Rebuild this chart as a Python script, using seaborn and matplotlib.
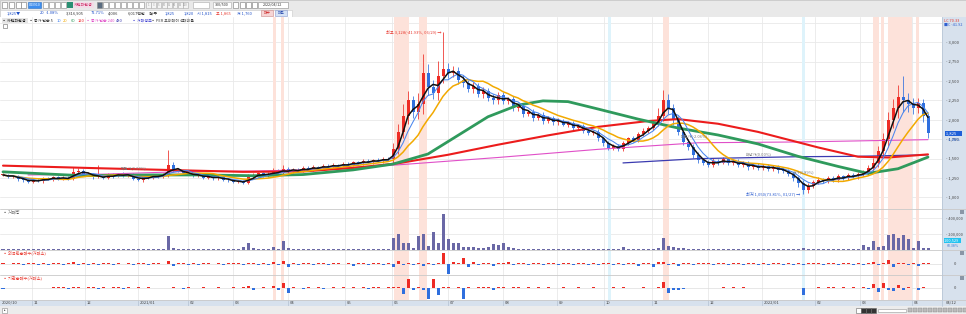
import numpy as np
import pandas as pd
import matplotlib
matplotlib.use("Agg")
import matplotlib.pyplot as plt
from matplotlib.patches import Rectangle
import seaborn as sns

# ---------------- data (one candle = two trading days) ----------------
closes = [
    1290, 1265, 1275, 1235, 1220, 1205,
    1225, 1210, 1245, 1235, 1260, 1240, 1255, 1240, 1330, 1345, 1300,
    1305, 1260, 1270, 1255, 1290, 1275, 1305, 1280, 1290, 1240, 1225,
    1265, 1255, 1285, 1270, 1295, 1420, 1350, 1345, 1310, 1305,
    1280, 1290, 1255, 1270, 1245, 1260, 1230, 1220, 1200,
    1210, 1190, 1260, 1285, 1310, 1280, 1305, 1345, 1310, 1370, 1335,
    1360, 1345, 1380, 1360, 1395, 1375, 1410, 1395, 1420, 1405, 1435,
    1420, 1455, 1440, 1470, 1455, 1485, 1470, 1500, 1490,
    1620, 1850, 2050, 2250, 2100, 2200, 2600, 2420, 2350, 2560, 2650,
    2600, 2630, 2520, 2480, 2400, 2440, 2330, 2370, 2280, 2250, 2320,
    2240, 2270, 2150, 2180, 2080, 2100, 2030, 2060, 1990, 2020, 1970,
    1990, 1940, 1955, 1900, 1920, 1860, 1830, 1850, 1760, 1700,
    1640, 1660, 1630, 1700, 1760, 1740, 1820, 1860, 1900,
    1960, 2050, 2250, 2150, 2000, 1850, 1720, 1650, 1550, 1480, 1450,
    1420, 1470, 1450, 1490, 1445, 1460, 1420, 1440, 1390, 1410, 1380,
    1400, 1370, 1390, 1350, 1340, 1300, 1250, 1180, 1100, 1150, 1200,
    1230, 1210, 1250, 1230, 1270, 1250, 1290, 1270, 1300,
    1330, 1380, 1450, 1600, 1750, 2000, 2150, 2300, 2250, 2200,
    2150, 2220, 2050, 1825,
]
upper_tail = [
    20, 15, 20, 15, 20, 15,
    15, 20, 15, 20, 15, 20, 15, 20, 60, 30, 20,
    20, 15, 150, 20, 25, 20, 15, 20, 15, 20, 15,
    15, 20, 15, 20, 20, 195, 40, 20, 15, 20,
    15, 20, 15, 20, 15, 20, 15, 20, 15,
    15, 20, 40, 30, 20, 15, 20, 40, 20, 50, 20,
    20, 15, 20, 25, 20, 15, 20, 25, 20, 15, 20,
    20, 15, 20, 25, 20, 15, 20, 25, 20,
    80, 100, 150, 120, 60, 150, 250, 120, 100, 200, 478,
    80, 60, 50, 60, 40, 50, 40, 60, 40, 50, 40,
    40, 30, 40, 30, 40, 30, 40, 30, 40, 30, 30,
    30, 25, 30, 25, 30, 25, 30, 25, 30, 25,
    25, 30, 25, 30, 25, 30, 25, 30, 25,
    40, 100, 140, 80, 60, 50, 40, 30, 40, 30, 30,
    30, 40, 30, 25, 30, 25, 30, 25, 30, 25, 30,
    25, 30, 25, 30, 25, 30, 25, 30, 40, 40, 30,
    30, 25, 30, 25, 30, 25, 30, 25, 30,
    30, 40, 60, 60, 80, 100, 120, 150, 265, 100,
    80, 60, 50, 40,
]
lower_tail = [
    15, 20, 15, 20, 15, 20,
    20, 15, 20, 15, 20, 15, 20, 15, 20, 25, 20,
    15, 20, 15, 20, 15, 20, 15, 20, 15, 20, 15,
    20, 15, 20, 15, 20, 30, 25, 20, 15, 20,
    20, 15, 20, 15, 20, 15, 20, 15, 20,
    20, 15, 20, 15, 20, 15, 20, 25, 20, 25, 20,
    15, 20, 15, 20, 15, 20, 15, 20, 15, 20, 15,
    15, 20, 15, 20, 15, 20, 15, 20, 15,
    40, 60, 80, 100, 80, 90, 120, 100, 80, 100, 90,
    60, 50, 60, 50, 40, 50, 40, 50, 40, 40, 40,
    40, 30, 40, 30, 40, 30, 40, 30, 40, 30, 30,
    30, 25, 30, 25, 30, 25, 30, 25, 30, 40,
    30, 25, 30, 25, 30, 25, 30, 25, 30,
    30, 40, 60, 80, 60, 50, 40, 40, 40, 30, 30,
    30, 25, 30, 25, 30, 25, 30, 25, 30, 25, 30,
    25, 30, 25, 30, 25, 30, 35, 40, 50, 40, 30,
    30, 25, 30, 25, 30, 25, 30, 25, 30,
    30, 40, 50, 60, 80, 100, 100, 120, 150, 100,
    80, 60, 80, 60,
]
volumes_k = [
    8, 6, 10, 7, 9, 6,
    7, 8, 6, 9, 7, 8, 9, 12, 15, 10, 8,
    7, 9, 10, 14, 8, 6, 7, 8, 7, 9, 8,
    7, 8, 6, 9, 10, 178, 25, 12, 9, 8,
    7, 8, 6, 7, 8, 9, 7, 8, 9,
    10, 40, 90, 20, 15, 10, 12, 40, 15, 110, 20,
    12, 10, 8, 9, 7, 8, 9, 10, 8, 9, 10,
    9, 10, 12, 9, 8, 10, 11, 9, 12,
    150, 200, 90, 80, 20, 180, 200, 50, 230, 90, 455,
    130, 80, 85, 40, 40, 30, 20, 20, 40, 70, 60,
    80, 30, 20, 15, 12, 10, 12, 10, 9, 10, 8,
    8, 9, 7, 8, 9, 7, 8, 10, 8, 9,
    10, 8, 9, 40, 8, 9, 10, 8, 9,
    12, 25, 150, 50, 30, 25, 20, 15, 12, 10, 10,
    9, 10, 8, 9, 10, 8, 9, 10, 8, 9, 8,
    7, 8, 9, 8, 7, 9, 10, 12, 25, 15, 10,
    9, 8, 10, 9, 8, 10, 9, 10, 12,
    60, 30, 110, 40, 50, 185, 195, 150, 185, 130,
    20, 110, 25, 20,
]
foreign_k = [
    3, -2, 4, 3, -3, 2,
    3, -4, 5, -6, 3, 4, -3, 5, 8, -4, 3,
    -3, 4, -5, 3, 5, -3, 4, -2, 3, -4, 3,
    4, -3, 3, 5, -2, 12, -8, 4, 3, -3,
    3, -3, 4, 3, -2, 4, -3, 3, 2,
    3, -4, 6, 5, -3, 4, -3, 8, -5, 15, -15,
    4, -3, 5, 3, -4, 3, 5, -3, 4, 3, -2,
    3, -8, 4, 3, -3, 5, 4, -3, 3,
    -12, 15, -6, 4, -3, 5, -8, 4, -5, 6, 50,
    -45, 8, 6, 25, -15, 10, -4, 5, 3, -8, 6,
    4, 10, -3, 5, 4, -4, 3, 5, -3, 4, 3,
    -4, 5, 3, -3, 4, 5, -3, 6, -4, 3,
    3, -5, 4, -6, 5, 3, -8, 4, 3,
    -12, 8, 10, -6, 4, -10, 5, 3, -4, 3, 5,
    4, -3, 5, 3, -4, 6, 3, -3, 4, 3, -3,
    3, -4, 3, 4, -3, 3, -4, 3, -5, 4, 3,
    4, -3, 5, 3, -5, 4, 3, -4, 5,
    -6, 5, 8, -4, 6, 18, -12, 6, 4, -5,
    6, -10, 4, 3,
]
inst_k = [
    -3, 0, 0, 0, 0, 0,
    0, 0, 0, 0, 3, 4, 3, -3, 4, 3, 0,
    3, 4, -3, 3, 0, 3, 4, -3, 3, 0, 5,
    0, 3, 0, 0, 0, 0, 3, 0, -3, 3,
    0, 0, 3, 0, 0, 3, 0, 0, 3,
    0, 3, 8, -6, 0, 3, 0, 8, -5, 18, -14,
    3, 0, -3, 3, 0, 4, -3, 0, 3, 0, 3,
    0, 3, 0, 3, -3, 4, 3, 0, 3,
    4, 3, -20, 30, -5, 4, -7, -36, 30, -22, 5,
    3, 0, 4, -36, 3, 0, 4, 3, 4, -6, 3,
    3, 0, 4, 3, 0, 3, 0, 3, 0, 3, 0,
    0, 3, 0, 0, 3, 0, 0, 3, 0, 0,
    0, 3, 0, 3, 0, 0, 0, 3, 0,
    0, 3, 22, -16, -5, -4, -3, 0, 0, 0, 0,
    0, 0, 0, 3, 0, 3, 0, 3, 0, 0, 0,
    0, 0, 0, 0, 0, 0, 0, 0, -22, 0, 0,
    3, 0, 3, 3, 0, 3, 0, 3, 0,
    4, -3, 14, -11, 18, -5, -8, 10, -6, 4,
    0, -5, 3, 0,
]

# long moving averages (candle index, price)
ma60_at = [0, 8, 16, 30, 40, 50, 60, 70, 78, 85, 91, 97, 103, 108, 113, 119, 127, 135, 143, 151, 159, 167, 173, 179, 185]
ma60_val = [1330, 1305, 1280, 1290, 1290, 1280, 1295, 1355, 1430, 1560, 1800, 2040, 2190, 2245, 2235, 2140, 2010, 1895, 1805, 1690, 1530, 1400, 1310, 1370, 1520]
ma120_at = [0, 20, 48, 60, 70, 79, 89, 99, 109, 119, 129, 135, 143, 151, 157, 163, 171, 177, 185]
ma120_val = [1410, 1375, 1330, 1335, 1380, 1440, 1550, 1680, 1800, 1910, 1985, 2010, 1950, 1845, 1745, 1645, 1525, 1515, 1555]
ma240_at = [5, 20, 37, 50, 60, 79, 99, 119, 139, 159, 185]
ma240_val = [1290, 1300, 1335, 1340, 1355, 1420, 1515, 1620, 1705, 1715, 1745]
ma480_at = [124, 139, 159, 171, 185]
ma480_val = [1445, 1500, 1525, 1530, 1550]

month_labels = ["11", "12", "2021/01", "02", "03", "04", "05", "06", "07", "08",
                "09", "10", "11", "12", "2022/01", "02", "03", "04"]
month_starts = [5.8, 16.4, 27, 37, 46, 57, 68.4, 77.8, 89, 100, 110.8, 120.2,
                129.8, 141, 151.8, 162.4, 171.4, 181.8]
price_ticks = [1000, 1250, 1500, 1750, 2000, 2250, 2500, 2750, 3000]
red_spans = [(54, 54.6), (55.6, 56.2), (78.2, 81.2), (83.2, 84.8), (132, 133.2),
             (174, 175.2), (175.6, 176.2), (177, 181.8), (182.6, 183.2)]
blue_spans = [(121, 121.6), (159.8, 160.4)]

# ---------------- setup ----------------
sns.set_style("white")
plt.rcParams['font.family'] = ['Noto Sans CJK KR', 'DejaVu Sans']
plt.rcParams['axes.linewidth'] = 0

W, H = 966, 314
fig = plt.figure(figsize=(W / 100, H / 100), dpi=100)
fig.patch.set_facecolor('white')

def axpx(x0, y0, x1, y1, z=1):
    a = fig.add_axes([x0 / W, 1 - y1 / H, (x1 - x0) / W, (y1 - y0) / H])
    a.set_zorder(z)
    a.set_xticks([]); a.set_yticks([])
    for s in a.spines.values():
        s.set_visible(False)
    return a

def ftxt(x, y, s, **kw):
    kw.setdefault('fontsize', 3.6)
    kw.setdefault('va', 'center')
    kw.setdefault('ha', 'left')
    fig.text(x / W, 1 - y / H, s, **kw)

N = len(closes)
idx = np.arange(N)
c = np.array(closes, float)
o = np.concatenate([[c[0]], c[:-1]])
hi = np.maximum(o, c) + np.array(upper_tail)
lo = np.minimum(o, c) - np.array(lower_tail)
df = pd.DataFrame({'i': idx, 'open': o, 'close': c, 'high': hi, 'low': lo})
df['ma5'] = df['close'].rolling(3, min_periods=1).mean()
df['ma10'] = df['close'].rolling(5, min_periods=1).mean()
df['ma20'] = df['close'].rolling(10, min_periods=1).mean()

XL = (-0.6, 187.8)
UP, DN = '#ee2b24', '#2f6fde'
GRID = '#e9e9e9'
FS = 3.0

# ---------------- background bands ----------------
hdr = axpx(0, 0, W, 17, z=0)
hdr.set_facecolor('#e9e9e9')
hdr.add_patch(Rectangle((0, 0), 1, 1, transform=hdr.transAxes, fill=False, ec='#c8c8c8', lw=0.6))

rband = axpx(942, 17, W, 300, z=0)
rband.set_facecolor('#d7e1ed')
xband = axpx(0, 300, W, 306, z=0)
xband.set_facecolor('#d7e1ed')
sbar = axpx(0, 306, W, 314, z=0)
sbar.set_facecolor('#ececec')

# ---------------- panels ----------------
ax = axpx(0, 17, 942, 209, z=2)
axv = axpx(0, 209, 942, 250, z=2)
ax2 = axpx(0, 250, 942, 275, z=2)
ax3 = axpx(0, 275, 942, 300, z=2)

for a in (ax, axv, ax2, ax3):
    a.set_xlim(*XL)
    for m in month_starts:
        a.axvline(m, color=GRID, lw=0.6, zorder=0)
    for s0, s1 in red_spans:
        a.axvspan(s0, s1, color='#fde2da', lw=0, zorder=0.5)
    for s0, s1 in blue_spans:
        a.axvspan(s0, s1, color='#def3fb', lw=0, zorder=0.5)

ax.set_ylim(851, 3326)
for p in price_ticks + [3250]:
    ax.axhline(p, color=GRID, lw=0.6, zorder=0)

# candles
up = df['close'] >= df['open']
cols = np.where(up, UP, DN)
ax.vlines(df['i'], df['low'], df['high'], colors=cols, lw=0.55, zorder=2)
body = np.maximum((df['close'] - df['open']).abs(), 6)
ax.bar(df['i'], body, bottom=np.minimum(df['open'], df['close']), width=0.6,
       color=cols, lw=0, zorder=2.5)

# moving averages
sns.lineplot(x=ma480_at, y=ma480_val, ax=ax, color='#3b3bb0', lw=0.9, legend=False, zorder=3)
sns.lineplot(x=ma240_at, y=ma240_val, ax=ax, color='#e04fc8', lw=0.8, legend=False, zorder=3)
sns.lineplot(x=ma120_at, y=ma120_val, ax=ax, color='#ec1c1c', lw=1.5, legend=False, zorder=3)
sns.lineplot(x=ma60_at, y=ma60_val, ax=ax, color='#2f9a5c', lw=2.0, legend=False, zorder=3)
sns.lineplot(data=df, x='i', y='ma20', ax=ax, color='#f2a900', lw=1.1, legend=False, zorder=4)
sns.lineplot(data=df, x='i', y='ma10', ax=ax, color='#4a86ee', lw=0.75, legend=False, zorder=4)
sns.lineplot(data=df, x='i', y='ma5', ax=ax, color='#111111', lw=1.1, legend=False, zorder=5)
ax.set_xlabel(''); ax.set_ylabel('')
ax.set_xticks([]); ax.set_yticks([])

# annotations in main panel
imax = int(np.argmax(df['high']))
imin = int(np.argmin(df['low']))
ax.text(imax - 0.4, df['high'][imax], '최고 3,128(-41.93%, 06/29) →', color='#e8382e',
        fontsize=FS, ha='right', va='center', zorder=6)
ax.text(imin - 0.6, df['low'][imin], '최저 1,050(73.81%, 01/27) →', color='#2f5fd0',
        fontsize=FS, ha='right', va='center', zorder=6)
ax.text(23.5, 1360, '매입가(0.00%)', color='#777777', fontsize=2.9, zorder=6)
ax.text(135.5, 1770, '매도가(-2.06%)', color='#777777', fontsize=2.9, zorder=6)
ax.text(148.5, 1545, '배당가(0.00%)', color='#777777', fontsize=2.9, zorder=6)
ax.text(158, 1310, '저가(1.89%)', color='#777777', fontsize=2.9, zorder=6)

# right axis labels (price)
for p in price_ticks:
    ax.text(1.004, p, '- ' + f'{p:,}', transform=ax.get_yaxis_transform(), fontsize=FS,
            color='#444444', va='center', ha='left', clip_on=False, zorder=7)
last = closes[-1]
ax.text(1.0035, last, f' {last:,}     ', transform=ax.get_yaxis_transform(), fontsize=FS,
        color='white', va='center', ha='left', clip_on=False, zorder=8,
        bbox=dict(boxstyle='square,pad=0.15', fc='#1e5fd8', ec='none'))
ax.text(1.006, last - 80, '-1.08%', transform=ax.get_yaxis_transform(), fontsize=2.8,
        color='#1e5fd8', va='center', ha='left', clip_on=False, zorder=8)
ftxt(943.5, 20.5, 'LC 70.33', color='#e8382e', fontsize=2.8)
ftxt(943.5, 24.5, '■C -41.92', color='#2f5fd0', fontsize=2.8)

# volume
axv.set_ylim(-4, 518)
for v in (200, 400):
    axv.axhline(v, color=GRID, lw=0.6, zorder=0)
axv.bar(idx, volumes_k, width=0.6, color='#6a68a6', lw=0, zorder=2)
for v in (200, 400):
    axv.text(1.004, v, '- ' + f'{v * 1000:,}', transform=axv.get_yaxis_transform(), fontsize=2.8,
             color='#444444', va='center', ha='left', clip_on=False)
axv.text(1.0025, 118, '100,529  ', transform=axv.get_yaxis_transform(), fontsize=2.8,
         color='white', va='center', ha='left', clip_on=False, zorder=8,
         bbox=dict(boxstyle='square,pad=0.12', fc='#22c3f0', ec='none'))
axv.text(1.005, 50, '60.38%', transform=axv.get_yaxis_transform(), fontsize=2.6,
         color='#3a7bd5', va='center', ha='left', clip_on=False, zorder=8)

# foreign / institution net buying
ax2.set_ylim(-50, 63)
ax3.set_ylim(-38.6, 44)
for a, vals in ((ax2, foreign_k), (ax3, inst_k)):
    vals = np.array(vals)
    a.axhline(0, color='#dddddd', lw=0.5, zorder=0)
    a.bar(idx, vals, width=0.6, color=np.where(vals >= 0, UP, DN), lw=0, zorder=2)
    a.text(1.012, 0, '0', transform=a.get_yaxis_transform(), fontsize=FS, color='#444444',
           va='center', ha='left', clip_on=False)

# panel separators
for yy in (209, 250, 275, 300):
    fig.add_artist(plt.Line2D([0, 1], [1 - yy / H] * 2, color='#c9c9c9', lw=0.6,
                              transform=fig.transFigure, zorder=10))
fig.add_artist(plt.Line2D([942 / W] * 2, [1 - 306 / H, 1 - 17 / H], color='#b9c6d6', lw=0.6,
                          transform=fig.transFigure, zorder=10))

# panel titles
ftxt(3, 212.5, '▪ 거래량', color='#555555', fontsize=FS, zorder=11)
ftxt(3, 253, '▪ 외국인순매수(거래소)', color='#e8382e', fontsize=FS, zorder=11)
ftxt(3, 278, '▪ 기관순매수(거래소)', color='#e8382e', fontsize=FS, zorder=11)
for yy in (211, 252, 277):
    fig.add_artist(Rectangle((960 / W, 1 - (yy + 3) / H), 4 / W, 4 / H, transform=fig.transFigure,
                             fc='#8a96a6', ec='none', zorder=11))

# x axis labels
xband.set_xlim(0, W); xband.set_ylim(0, 1)
xband.text(2, 0.5, '2020/10', fontsize=FS, color='#444444', va='center')
for lab, m in zip(month_labels, month_starts):
    px = (m - XL[0]) / (XL[1] - XL[0]) * 942
    xband.axvline(px, color='#b5c2d2', lw=0.5)
    xband.text(px + 1.5, 0.5, lab, fontsize=FS, color='#444444', va='center')
xband.text(946, 0.5, '04/12', fontsize=FS, color='#444444', va='center')

# scroll bar
sbar.set_xlim(0, W); sbar.set_ylim(0, 8)
sbar.add_patch(Rectangle((2, 1.5), 5, 5, fc='white', ec='#888888', lw=0.4))
sbar.text(4.5, 4, '▸', fontsize=2.4, ha='center', va='center', color='#333333')
for k, px in enumerate([856, 861, 866, 871]):
    sbar.add_patch(Rectangle((px, 1.5), 4.5, 5, fc='#333333' if k else 'white', ec='#666666', lw=0.4))
sbar.add_patch(Rectangle((878, 2.5), 28, 3, fc='white', ec='#999999', lw=0.4))
for px in range(908, 966, 5):
    sbar.add_patch(Rectangle((px, 2), 3.5, 4, fc='#bbbbbb', ec='#888888', lw=0.3))

# ---------------- header ----------------
hdr.set_xlim(0, W); hdr.set_ylim(17, 0)
hdr.add_patch(Rectangle((0, 9.5), 292, 7, fc='white', ec='#c8c8c8', lw=0.4))
for px in (2, 9, 16, 21):
    hdr.add_patch(Rectangle((px, 2), 5, 5.5, fc='white', ec='#777777', lw=0.4))
hdr.add_patch(Rectangle((28, 2), 13, 5.5, fc='#3d8ef0', ec='#2a6fc0', lw=0.4))
hdr.text(34.5, 4.8, '043910', fontsize=2.6, color='white', ha='center', va='center')
for px in (43, 49, 55, 61):
    hdr.add_patch(Rectangle((px, 2), 5, 5.5, fc='white', ec='#888888', lw=0.4))
hdr.add_patch(Rectangle((67, 2), 5.5, 5.5, fc='#2a8f72', ec='none'))
hdr.add_patch(Rectangle((73, 2), 21, 5.5, fc='#f3dde8', ec='none'))
hdr.text(83.5, 4.8, '자연과환경', fontsize=2.9, color='#d0306a', ha='center', va='center')
for k, px in enumerate(range(97, 143, 6)):
    hdr.add_patch(Rectangle((px, 2), 5, 5.5, fc='#5a6c80' if k == 0 else 'white', ec='#888888', lw=0.4))
for k, lab in enumerate(['1', '3', '5', '10', '15', '30', '60', '120']):
    px = 146 + k * 5.3
    hdr.add_patch(Rectangle((px, 2), 4.8, 5.5, fc='#f4f4f4', ec='#aaaaaa', lw=0.4))
    hdr.text(px + 2.4, 4.8, lab, fontsize=2.0, color='#999999', ha='center', va='center')
hdr.add_patch(Rectangle((193, 2), 16, 5.5, fc='white', ec='#aaaaaa', lw=0.4))
hdr.add_patch(Rectangle((213, 2), 18, 5.5, fc='white', ec='#aaaaaa', lw=0.4))
hdr.text(222, 4.8, '300/500', fontsize=2.7, color='#333333', ha='center', va='center')
for px in (233, 240, 246, 252):
    hdr.add_patch(Rectangle((px, 2), 5, 5.5, fc='white', ec='#777777', lw=0.4))
hdr.add_patch(Rectangle((258, 2), 30, 5.5, fc='white', ec='#888888', lw=0.4))
hdr.text(273, 4.8, '2022/04/12', fontsize=2.7, color='#333333', ha='center', va='center')

row2 = [(7, '1,825▼', '#1e50c8'), (40, '20', '#1e50c8'), (46, '-1.08%', '#1e50c8'),
        (66, '3,316,905', '#333333'), (91, '72.71%', '#1e50c8'), (108, '4,006', '#333333'),
        (128, '6,017백만', '#333333'), (149, '원/주', '#333333'), (165, '1,825', '#1e50c8'),
        (184, '1,820', '#1e50c8'), (197, '시 1,815', '#1e50c8'), (216, '고 1,865', '#e8382e'),
        (237, '저 1,760', '#1e50c8')]
for px, s, col in row2:
    hdr.text(px, 13.2, s, fontsize=2.9, color=col, va='center')
hdr.add_patch(Rectangle((261, 10.2), 12, 5.6, fc='#f6d5d5', ec='#cc8888', lw=0.4))
hdr.text(267, 13.1, '매수', fontsize=2.7, color='#cc2222', ha='center', va='center')
hdr.add_patch(Rectangle((275, 10.2), 12, 5.6, fc='#d5e2f6', ec='#8899cc', lw=0.4))
hdr.text(281, 13.1, '매도', fontsize=2.7, color='#2244aa', ha='center', va='center')

# chart legend row
leg = [(2, '▪ 자연과환경', '#222222'), (29, '▪ 종가 단순 5', '#333333'), (57, '10', '#4a86ee'),
       (63, '20', '#f2a900'), (70.5, '60', '#2f9a5c'), (77.5, '120', '#ec1c1c'),
       (86, '▪ 종가 단순 240', '#e04fc8'), (116, '480', '#3b3bb0'),
       (132, '▪ 거래정보', '#3b3bd0'), (151, '▪ PER 오버레이', '#444444'), (180, '적대비율', '#444444')]
fig.add_artist(Rectangle((2 / W, 1 - 23 / H), 26 / W, 5 / H, transform=fig.transFigure,
                         fc='#e6e6e6', ec='none', zorder=11))
for px, s, col in leg:
    ftxt(px, 20.5, s, color=col, fontsize=2.9, zorder=12)
fig.add_artist(Rectangle((3 / W, 1 - 28 / H), 4 / W, 4 / H, transform=fig.transFigure,
                         fc='white', ec='#666666', lw=0.4, zorder=11))

fig.savefig('out.png', dpi=100)
